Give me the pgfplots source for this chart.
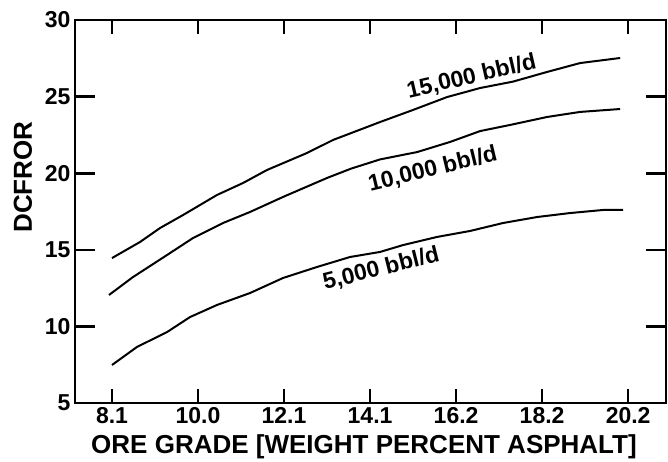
\documentclass[border=0pt]{standalone}
\usepackage{pgfplots}
\pgfplotsset{compat=1.18}
\usepackage{fontspec}
\setmainfont{Liberation Sans}

% DCFROR versus ore grade for three plant capacities
\pgfplotstableread{
x     y
0.000 14.46
0.326 15.51
0.558 16.42
0.826 17.27
1.221 18.58
1.523 19.36
1.802 20.21
2.267 21.32
2.570 22.17
3.116 23.34
3.500 24.13
3.895 24.97
4.279 25.56
4.663 25.98
5.058 26.61
5.442 27.19
5.907 27.52
}\capfifteen
\pgfplotstableread{
x     y
-0.035 12.05
0.244 13.22
0.640 14.66
0.942 15.77
1.291 16.75
1.605 17.47
1.988 18.45
2.500 19.69
2.780 20.30
3.116 20.90
3.547 21.38
3.930 22.04
4.279 22.75
4.628 23.15
5.058 23.67
5.442 24.00
5.907 24.19
}\capten
\pgfplotstableread{
x     y
0.000 7.48
0.291 8.66
0.640 9.63
0.907 10.61
1.221 11.40
1.605 12.18
1.988 13.16
2.384 13.88
2.767 14.53
3.116 14.86
3.384 15.31
3.779 15.84
4.163 16.23
4.547 16.75
4.942 17.14
5.326 17.40
5.709 17.60
5.942 17.60
}\capfive

\begin{document}
\begin{tikzpicture}
\path[use as bounding box] (-75pt,-58pt) rectangle (593pt,403pt);
\begin{axis}[
  at={(0pt,0pt)}, anchor=south west,
  scale only axis, width=591pt, height=383pt,
  xmin=-0.43, xmax=6.44, ymin=5, ymax=30,
  xtick={0,1,2,3,4,5,6},
  xticklabels={8.1,10.0,12.1,14.1,16.2,18.2,20.2},
  ytick={5,10,15,20,25,30},
  tick align=inside,
  axis line style={line width=2.6pt},
  every tick/.style={black, line width=2.6pt},
  xtick style={/pgfplots/major tick length=14pt},
  ytick style={/pgfplots/major tick length=20pt},
  /pgf/number format/assume math mode=true,
  tick label style={font=\fontsize{23}{23}\selectfont\bfseries},
  xticklabel style={yshift=-1pt},
  yticklabel style={xshift=-1pt},
  xlabel={ORE GRADE [WEIGHT PERCENT ASPHALT]},
  ylabel={DCFROR},
  label style={font=\fontsize{26}{26}\selectfont\bfseries},
  xlabel style={at={(axis description cs:0.489,-0.115)}, anchor=center},
  ylabel style={at={(axis description cs:-0.088,0.59)}, anchor=center, rotate=0},
  clip=false,
]
\addplot[black, line width=2pt, no marks] table[x=x,y=y] {\capfifteen};
\addplot[black, line width=2pt, no marks] table[x=x,y=y] {\capten};
\addplot[black, line width=2pt, no marks] table[x=x,y=y] {\capfive};
\node[rotate=13, font=\fontsize{23}{23}\selectfont\bfseries] at (axis cs:4.18,26.28) {15,000 bbl/d};
\node[rotate=13.5, font=\fontsize{23}{23}\selectfont\bfseries] at (axis cs:3.73,20.25) {10,000 bbl/d};
\node[rotate=14, font=\fontsize{23}{23}\selectfont\bfseries] at (axis cs:3.13,13.75) {5,000 bbl/d};
\end{axis}
\end{tikzpicture}
\end{document}
